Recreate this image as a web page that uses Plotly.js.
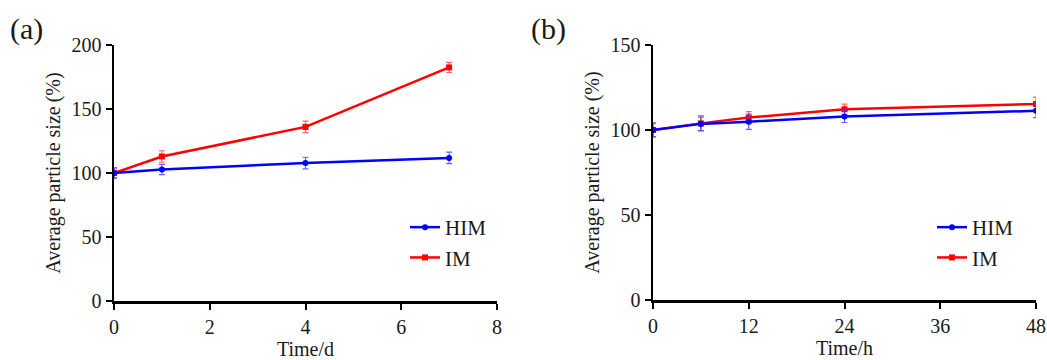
<!DOCTYPE html>
<html><head><meta charset="utf-8">
<script src="https://cdn.plot.ly/plotly-3.0.1.min.js"></script>
<style>body{margin:0;background:#fff}#g{width:1047px;height:360px}</style>
</head><body><div id="g"></div>
<script>
// Panel (a): days
const daysA = [0, 1, 4, 7];
const himA = [100, 102.7, 107.8, 111.8];
const himAErr = [4, 4, 4.5, 4.5];
const imA = [100, 112.9, 136, 182.5];
const imAErr = [4, 4.5, 4.5, 4];
// Panel (b): hours
const hoursB = [0, 6, 12, 24, 48];
const himB = [100, 103.6, 104.9, 107.9, 111.3];
const himBErr = [4, 4, 4.5, 3.5, 4];
const imB = [100, 103.9, 107.3, 112.2, 115.3];
const imBErr = [4, 4.5, 3.5, 3, 4];
const xTicksA = [0, 2, 4, 6, 8];
const xTicksB = [0, 12, 24, 36, 48];
const yTicksA = [0, 50, 100, 150, 200];
const yTicksB = [0, 50, 100, 150];

const BLUE = '#0000ff', RED = '#ff0000';
const FONT = 'Liberation Serif';
const TXT = '#1a1a1a';
const FS = 20;

function tr(x, y, e, name, color, sym, xa, ya, leg, rank) {
  return {x: x, y: y, name: name, type: 'scatter', mode: 'lines+markers',
    xaxis: xa, yaxis: ya, legend: leg, showlegend: true, legendrank: rank,
    line: {color: color, width: 2.5},
    marker: {color: color, symbol: sym, size: 6},
    error_y: {type: 'data', array: e, visible: true, color: color === BLUE ? 'rgba(60,60,255,0.8)' : 'rgba(255,60,60,0.8)', thickness: 1.2, width: 3}
  };
}
const data = [
  tr(daysA, imA, imAErr, 'IM', RED, 'square', 'x', 'y', 'legend', 2),
  tr(daysA, himA, himAErr, 'HIM', BLUE, 'circle', 'x', 'y', 'legend', 1),
  tr(hoursB, imB, imBErr, 'IM', RED, 'square', 'x2', 'y2', 'legend2', 2),
  tr(hoursB, himB, himBErr, 'HIM', BLUE, 'circle', 'x2', 'y2', 'legend2', 1)
];
const W = 1047, H = 360;
function ax(dom, range, tv, ttl, anchor) {
  return {domain: dom, range: range, tickvals: tv, ticktext: tv.map(String), anchor: anchor,
    showgrid: false, zeroline: false, showline: true, linecolor: '#000', linewidth: 2.5,
    ticks: 'outside', ticklen: 6, tickwidth: 2, tickcolor: '#000',
    tickfont: {family: FONT, size: FS, color: TXT},
    title: {text: ttl, font: {family: FONT, size: FS, color: TXT}, standoff: 4},
    fixedrange: true};
}
const xa = ax([114/W, 497/W], [0, 8], xTicksA, 'Time/d', 'y');
const xb = ax([653/W, 1036/W], [0, 48], xTicksB, 'Time/h', 'y2');
const ya = ax([1-301/H, 1-45/H], [0, 200], yTicksA, 'Average particle size\u2009(%)', 'x');
const yb = ax([1-300/H, 1-45/H], [0, 150], yTicksB, 'Average particle size (%)', 'x2');
xa.title.standoff = 0; xb.title.standoff = 0;
ya.title.standoff = 6; yb.title.standoff = 6;
const legStyle = {font: {family: FONT, size: 21, color: TXT}, bgcolor: 'rgba(0,0,0,0)',
  xanchor: 'left', yanchor: 'top', tracegroupgap: 10, itemwidth: 30};
const layout = {
  width: W, height: H, margin: {l: 0, r: 0, t: 0, b: 0},
  font: {family: FONT, size: FS, color: TXT},
  paper_bgcolor: '#fff', plot_bgcolor: '#fff', showlegend: true,
  xaxis: xa, yaxis: ya, xaxis2: xb, yaxis2: yb,
  legend: Object.assign({x: 405/W, y: 1-207/H}, legStyle),
  legend2: Object.assign({x: 932/W, y: 1-207/H}, legStyle),
  annotations: [
    {text: '(a)', x: 8/W, y: 1-29/H, xref: 'paper', yref: 'paper', xanchor: 'left', yanchor: 'middle', showarrow: false, font: {family: FONT, size: 30, color: TXT}},
    {text: '(b)', x: 529/W, y: 1-29/H, xref: 'paper', yref: 'paper', xanchor: 'left', yanchor: 'middle', showarrow: false, font: {family: FONT, size: 30, color: TXT}}
  ]
};
Plotly.newPlot('g', data, layout, {displayModeBar: false, staticPlot: true});
</script></body></html>
